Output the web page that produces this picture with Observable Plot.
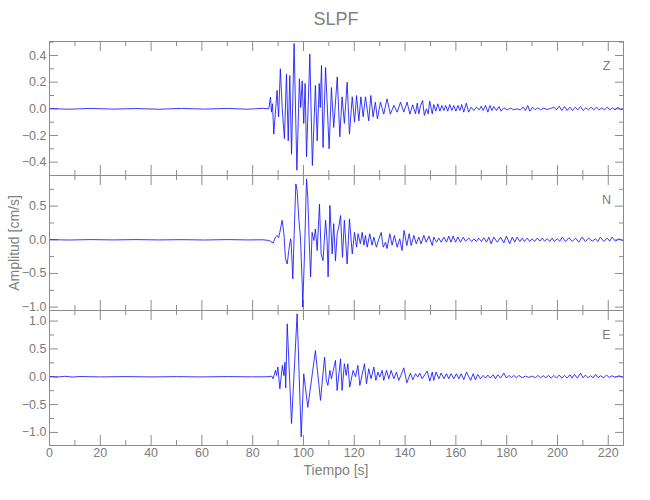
<!DOCTYPE html>
<html><head><meta charset="utf-8">
<script src="https://cdn.jsdelivr.net/npm/d3@7"></script>
<script src="https://cdn.jsdelivr.net/npm/@observablehq/plot@0.6"></script>
<style>
body{margin:0;background:#fff;}
#chart{position:relative;width:650px;height:500px;overflow:hidden;font-family:"Liberation Sans Narrow","Liberation Sans",Arial,sans-serif;color:#808080;}
#chart svg{position:absolute;left:0;background:transparent;overflow:visible;}
.lbl{position:absolute;white-space:nowrap;color:#808080;}
</style></head><body><div id="chart"></div>
<script>
// ---- data (time in s, amplitude in cm/s) ----
const title = "SLPF";
const xLabel = "Tiempo [s]";
const yLabel = "Amplitud [cm/s]";
const components = ["Z", "N", "E"];
const xMajor = [0,20,40,60,80,100,120,140,160,180,200,220];
const xMinor = [10,30,50,70,90,110,130,150,170,190,210];
const xDomain = [0, 226];

const timeZ = [0,8,16,25,34,43,52,61,70,78,84,86.35,87.0,87.4,87.8,88.3,89.1,89.6,90.2,90.9,91.6,92.5,93.3,94.0,94.6,95.3,96.3,97.4,98.4,98.9,99.5,100.1,100.65,101.2,102.5,103.5,104.7,105.4,106.2,106.6,107.1,107.7,108.7,110.1,111.0,111.9,113.3,114.3,115.2,116.1,117.2,118.1,119.2,120.1,120.9,121.8,122.6,123.5,124.4,125.7,126.5,127.4,128.3,129.1,130.3,131.6,132.9,134.2,135.6,136.9,138.2,139.5,140.8,141.9,143.0,144.1,144.8,145.4,146.1,146.9,147.6,148.4,149.1,149.7,150.7,151.3,152.1,152.9,153.7,154.5,155.3,156.0,156.8,157.6,158.4,159.2,160.0,160.8,161.6,162.3,163.1,164.1,165.0,166.0,167.1,168.1,169.2,170.0,170.7,171.7,172.6,173.4,174.2,174.9,176.0,177.0,177.8,178.9,180.2,181.5,182.8,184.1,185.4,186.5,187.4,188.3,189.1,190.2,191.2,192.3,193.3,194.6,195.9,197.3,198.6,199.6,200.7,201.7,202.8,203.8,204.9,205.9,207.0,208.0,209.1,210.1,211.2,212.2,213.3,214.3,215.4,216.4,217.5,218.5,219.6,220.6,221.7,222.7,223.8,224.8,226];
const ampZ = [0.002,-0.003,0.003,-0.002,0.002,-0.003,0.003,-0.002,0.003,-0.003,0.004,0,0.088,-0.025,0.038,-0.19,0.012,0.138,-0.06,0.30,0.01,-0.225,0.26,-0.24,0.25,-0.34,0.49,-0.46,0.225,0.01,0.21,-0.11,0.19,-0.36,0.41,-0.425,0.175,-0.24,0.19,0.01,0.325,-0.29,0.31,-0.30,0.16,-0.14,0.24,-0.21,0.09,-0.11,0.20,-0.19,0.09,-0.10,0.10,-0.09,0.09,-0.06,0.09,-0.09,0.10,-0.06,0.05,-0.075,0.05,-0.04,0.075,-0.04,0.025,-0.025,0.05,-0.025,0.05,-0.04,0.03,-0.0375,0.0425,-0.0375,0.025,0.0625,-0.05,0.0,-0.0375,0.0575,-0.0375,0.0325,-0.0175,0.0375,-0.0175,0.025,-0.0125,0.025,-0.0175,0.0325,-0.0125,0.025,-0.0175,0.025,-0.0125,0.0325,-0.025,0.0425,-0.025,0.0125,-0.0125,0.0125,-0.0075,0.02,-0.0125,0.025,-0.025,0.025,-0.0125,0.0175,-0.0125,0.0175,-0.0175,0.0075,-0.0075,0.005,-0.0075,0.0,-0.0075,0.0125,-0.0125,0.025,-0.0175,0.0125,-0.0075,0.0075,-0.0075,0.005,-0.005,0.0025,0.0125,-0.0075,0.02,-0.0125,0.0175,-0.0125,0.0125,-0.0125,0.0125,-0.0075,0.0175,-0.0125,0.0075,-0.0075,0.0125,-0.0075,0.0125,-0.0075,0.0075,-0.0075,0.0125,-0.0075,0.0075,-0.0075,0.0125,-0.0075,0.0];

const timeN = [0,8,16,25,34,43,52,61,70,78,84,86.5,88.05,88.97,89.63,90.2,90.68,91.6,92.3,92.9,93.6,94.2,94.9,95.1,95.8,96.5,97.0,97.5,98.2,98.8,99.5,99.7,100.4,101.2,101.7,102.2,102.8,103.4,104.1,104.7,105.4,106.3,106.95,107.7,108.7,109.3,109.7,110.4,111.3,111.9,112.6,113.25,113.9,114.6,115.35,116.1,117.2,118.1,119.2,120.1,120.9,121.5,122.4,123.1,123.8,124.4,125.1,126.1,127.0,127.7,128.7,129.7,130.6,131.4,132.3,132.9,134.0,134.9,135.8,136.9,137.9,138.8,139.6,140.7,141.6,142.4,143.45,144.4,145.4,146.3,147.4,148.3,149.4,150.7,151.3,152.4,153.3,154.2,155.3,156.3,157.2,158.1,158.9,159.9,160.8,161.8,162.9,163.8,165.1,166.2,167.1,168.1,169.0,170.1,171.0,172.1,173.0,173.9,174.9,176.3,177.6,178.9,179.9,181.2,182.2,183.2,184.1,185.2,186.1,187.0,188.1,189.1,190.0,191.0,192.0,193.1,194.0,194.9,196.0,197.0,197.9,198.8,199.9,200.9,201.9,203.2,204.5,205.8,207.1,208.4,209.7,211.0,212.3,213.7,215.0,215.9,216.9,218.3,219.6,220.6,221.5,222.8,224.2,225.5,226];
const ampN = [0.002,-0.003,0.003,-0.002,0.003,-0.002,0.002,-0.003,0.003,-0.002,0.0,-0.01,-0.05,0.04,0.065,0.03,0.11,0.29,0.09,-0.28,-0.36,-0.16,0.015,-0.01,-0.58,0.29,0.83,0.73,0.29,0.04,-0.65,-1.0,-0.21,0.905,0.63,0.04,-0.55,0.11,-0.01,0.16,-0.16,0.53,-0.21,-0.31,0.29,-0.01,-0.55,0.51,-0.21,0.24,-0.31,0.09,0.19,0.36,-0.26,0.29,-0.36,0.31,-0.21,0.11,-0.11,0.09,-0.06,0.11,-0.08,0.065,-0.11,0.09,-0.08,0.04,-0.11,0.015,0.11,-0.11,-0.035,-0.13,0.09,-0.08,0.065,-0.11,0.015,-0.16,0.14,-0.085,0.09,-0.085,0.065,-0.06,0.04,-0.06,0.065,-0.035,0.055,-0.085,0.04,-0.035,0.025,-0.035,0.04,-0.035,0.055,-0.035,0.055,-0.035,0.04,-0.035,0.04,-0.02,0.025,-0.025,0.015,-0.025,0.025,-0.025,0.03,-0.035,0.04,-0.06,0.04,-0.035,0.04,-0.045,0.055,-0.06,0.04,-0.035,0.04,-0.025,0.025,-0.025,0.025,-0.025,0.015,-0.025,0.025,-0.02,0.025,-0.02,0.015,-0.025,0.025,-0.025,0.015,-0.02,0.04,-0.025,0.03,-0.025,0.025,-0.035,0.04,-0.025,0.025,-0.02,0.015,-0.025,0.04,-0.025,0.025,-0.02,0.04,-0.02,0.015,-0.01,0.0];

const timeE = [0,3,6,9,12,20,30,40,50,60,70,80,86,87.5,88.05,88.97,89.4,89.9,90.7,91.2,91.7,92.3,92.7,93.0,93.6,95.3,97.5,99.1,100.1,101.7,104.7,106.7,108.3,109.0,109.6,110.4,111.0,112.6,113.25,114.6,115.2,116.1,116.8,117.45,118.2,119.55,120.5,121.4,122.2,124.0,124.8,125.7,126.6,127.7,128.5,129.3,130.05,131.0,131.6,132.7,133.6,134.5,135.6,136.6,137.5,138.4,139.5,140.7,142.1,143.05,144.1,145.0,145.8,146.7,148.7,149.75,150.7,151.3,152.2,153.3,154.2,155.3,156.3,157.2,158.1,159.2,160.2,161.2,162.1,163.1,164.2,165.8,166.8,167.7,168.6,169.7,170.7,171.7,172.6,173.6,174.7,175.6,176.5,177.6,178.9,179.9,180.9,181.9,182.8,183.9,184.8,186.1,187.4,188.7,190.0,191.35,192.3,193.3,194.4,195.4,196.5,197.5,198.6,199.6,200.7,201.7,202.8,203.8,204.9,205.8,206.7,207.8,209.1,210.1,211.0,212.1,213.0,214.1,215.0,216.0,216.9,218.3,219.3,220.4,221.5,222.8,224.2,225.5,226];
const ampE = [0.005,-0.006,0.008,-0.005,0.004,-0.003,0.003,-0.003,0.002,-0.003,0.003,-0.002,0.0,0.01,-0.036,0.114,0.024,0.174,-0.216,-0.006,0.204,0.02,0.26,-0.2,0.95,-0.84,1.13,-1.08,0.054,-0.55,0.47,-0.425,0.353,-0.066,-0.156,0.114,-0.036,0.293,-0.246,0.323,-0.246,0.234,0.024,0.234,-0.186,0.114,0.0,0.204,-0.156,0.234,-0.126,0.144,-0.036,0.174,-0.066,0.084,-0.006,0.114,-0.066,0.114,-0.036,0.114,-0.036,0.084,-0.066,0.03,0.16,-0.11,0.066,-0.054,0.054,-0.006,0.066,-0.036,0.10,-0.078,0.084,-0.066,0.084,-0.036,0.066,-0.036,0.054,-0.036,0.054,-0.036,0.054,-0.036,0.054,-0.054,0.084,-0.066,0.054,-0.054,0.042,-0.036,0.024,-0.024,0.03,-0.024,0.036,-0.036,0.036,-0.024,0.066,-0.024,0.024,-0.018,0.024,-0.018,0.024,-0.018,0.012,-0.012,0.012,-0.018,0.024,-0.018,0.018,-0.018,0.024,-0.024,0.024,-0.024,0.03,-0.024,0.024,-0.024,0.036,-0.024,0.042,-0.024,0.066,-0.018,0.03,-0.018,0.018,-0.018,0.042,-0.018,0.018,-0.018,0.03,-0.012,0.018,-0.012,0.018,-0.006,0.0];

const yDomainZ = [-0.5, 0.505], yMajorZ = [-0.4,-0.2,0,0.2,0.4], yMinorZ = [-0.5,-0.3,-0.1,0.1,0.3,0.5];
const yDomainN = [-1.05, 0.955], yMajorN = [-1,-0.5,0,0.5], yMinorN = [-0.75,-0.25,0.25,0.75];
const yDomainE = [-1.235, 1.19], yMajorE = [-1,-0.5,0,0.5,1], yMinorE = [-0.75,-0.25,0.25,0.75];

// ---- layout ----
const W = 650, ML = 49, MR = 27, innerW = W - ML - MR;
const ink = "#8c8c8c", txt = "#7c7c7c";
const fontFam = getComputedStyle(document.getElementById("chart")).fontFamily;
const fmt = d => d.toFixed(1).replace("-", "\u2212");

function panel({times, amps, domain, major, minor, comp, top, height, mt, mb, xAxis}) {
  const innerH = height - mt - mb;
  const rows = times.map((t, i) => ({t, v: amps[i]}));
  const marks = [
    Plot.ruleX(xMajor, {stroke: ink, insetTop: innerH - 10}),
    Plot.ruleX(xMajor, {stroke: ink, insetBottom: innerH - 10}),
    Plot.ruleX(xMinor, {stroke: ink, insetTop: innerH - 5}),
    Plot.ruleX(xMinor, {stroke: ink, insetBottom: innerH - 5}),
    Plot.ruleY(major, {stroke: ink, insetRight: innerW - 9}),
    Plot.ruleY(major, {stroke: ink, insetLeft: innerW - 8}),
    Plot.ruleY(minor, {stroke: ink, insetRight: innerW - 5}),
    Plot.ruleY(minor, {stroke: ink, insetLeft: innerW - 4}),
    Plot.line(rows, {x: "t", y: "v", stroke: "#1414ff", strokeWidth: 0.85, clip: true}),
    Plot.frame({stroke: ink}),
    Plot.axisY({ticks: major, tickSize: 0, tickPadding: 3, tickFormat: fmt, fill: txt, fontSize: 12.5, label: null}),
    Plot.text([comp], {frameAnchor: "top-right", dx: -17, dy: 20, text: d => d, fill: txt, fontSize: 12.5, textAnchor: "middle"})
  ];
  if (xAxis) marks.push(Plot.axisX({ticks: xMajor, tickSize: 0, tickPadding: 3, fill: txt, fontSize: 12.5, label: null, tickFormat: d => String(d)}));
  const svg = Plot.plot({
    width: W, height, marginLeft: ML, marginRight: MR, marginTop: mt, marginBottom: mb,
    x: {domain: xDomain, axis: null, label: null},
    y: {domain, axis: null, label: null},
    style: {background: "transparent", fontFamily: fontFam, color: txt, overflow: "visible"},
    marks
  });
  svg.style.top = top + "px";
  return svg;
}

const root = document.getElementById("chart");
root.appendChild(panel({times: timeZ, amps: ampZ, domain: yDomainZ, major: yMajorZ, minor: yMinorZ, comp: components[0], top: 0, height: 176, mt: 41, mb: 1}));
root.appendChild(panel({times: timeN, amps: ampN, domain: yDomainN, major: yMajorN, minor: yMinorN, comp: components[1], top: 174, height: 137, mt: 1, mb: 1}));
root.appendChild(panel({times: timeE, amps: ampE, domain: yDomainE, major: yMajorE, minor: yMinorE, comp: components[2], top: 309, height: 191, mt: 1, mb: 55, xAxis: true}));

function addLabel(text, css) {
  const d = document.createElement("div");
  d.className = "lbl"; d.textContent = text;
  Object.assign(d.style, css);
  root.appendChild(d);
  return d;
}
addLabel(title, {left: ML + "px", width: innerW + "px", textAlign: "center", top: "9px", fontSize: "18px"});
addLabel(xLabel, {left: ML + "px", width: innerW + "px", textAlign: "center", top: "462px", fontSize: "14px"});
addLabel(yLabel, {left: "14px", top: "243px", fontSize: "14px", transform: "translate(-50%,-50%) rotate(-90deg)"});
</script></body></html>
